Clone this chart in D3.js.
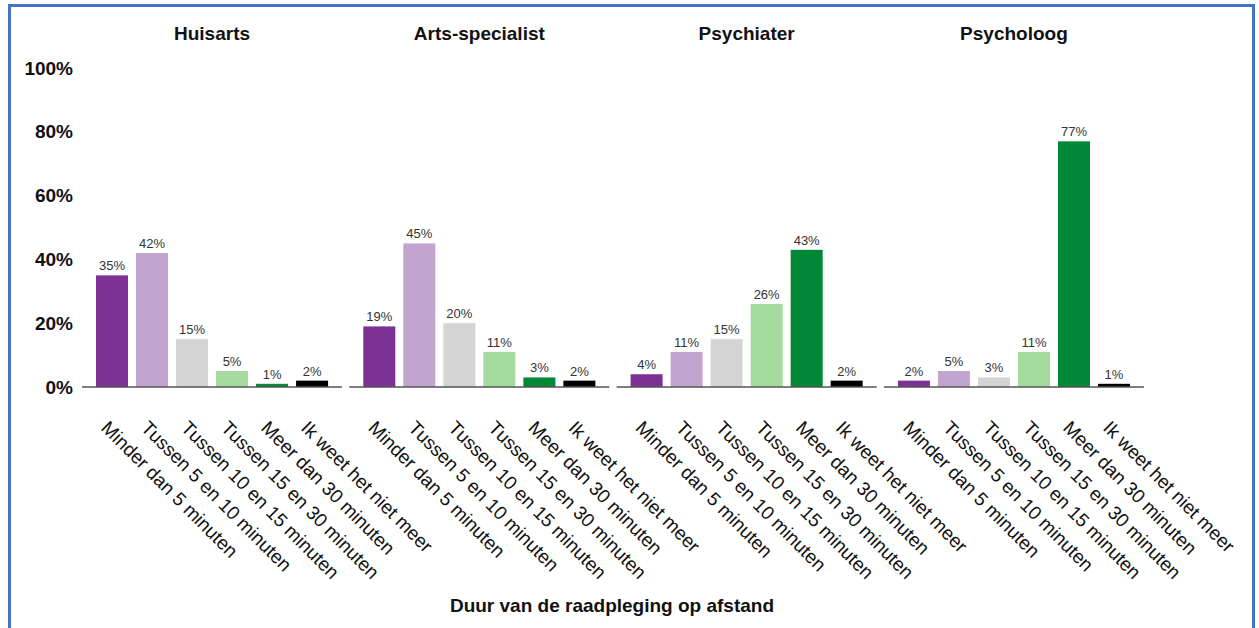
<!DOCTYPE html>
<html>
<head>
<meta charset="utf-8">
<script src="https://cdn.jsdelivr.net/npm/d3@7"></script>
<style>
  body { margin: 0; background: #fff; }
  svg text { font-family: 'Liberation Sans', Arial, sans-serif; }
</style>
</head>
<body>
<div id="chart"></div>
<script>
let panels = ['Huisarts', 'Arts-specialist', 'Psychiater', 'Psycholoog']

let categories = [
  'Minder dan 5 minuten',
  'Tussen 5 en 10 minuten',
  'Tussen 10 en 15 minuten',
  'Tussen 15 en 30 minuten',
  'Meer dan 30 minuten',
  'Ik weet het niet meer'
]

let huisarts = [35, 42, 15, 5, 1, 2]
let artsSpecialist = [19, 45, 20, 11, 3, 2]
let psychiater = [4, 11, 15, 26, 43, 2]
let psycholoog = [2, 5, 3, 11, 77, 1]

let yTicks = [0, 20, 40, 60, 80, 100]

let colors = ['#7b3294', '#c2a5cf', '#d4d4d4', '#a6dba0', '#008837', '#000000']

let seriesByPanel = [huisarts, artsSpecialist, psychiater, psycholoog]

let width = 1259
let height = 628

let svg = d3
  .select('#chart')
  .append('svg')
  .attr('width', width)
  .attr('height', height)

// blue frame, cut off at the bottom like the screenshot
svg
  .append('path')
  .attr('d', 'M9.5,' + height + ' V5.5 H1253.5 V' + height)
  .attr('fill', 'none')
  .attr('stroke', '#4472c4')
  .attr('stroke-width', 3)

let panelScale = d3
  .scaleBand()
  .domain(panels)
  .range([82, 1144])
  .paddingInner(0.027)

let xPositionScale = d3
  .scaleBand()
  .domain(categories)
  .range([0, panelScale.bandwidth()])
  .paddingInner(0.2)
  .paddingOuter(0.35)

let yPositionScale = d3.scaleLinear().domain([0, 100]).range([387, 68])

let colorScale = d3.scaleOrdinal().domain(categories).range(colors)

// y labels (no axis line)
let yAxis = d3
  .axisLeft(yPositionScale)
  .tickValues(yTicks)
  .tickFormat(d => d + '%')
  .tickSize(0)
  .tickPadding(0)
svg
  .append('g')
  .attr('class', 'axis y-axis')
  .attr('transform', 'translate(73,0)')
  .call(yAxis)
  .call(g => g.select('.domain').remove())
  .selectAll('text')
  .attr('font-size', 19)
  .attr('font-weight', 'bold')
  .attr('fill', '#111')
  .attr('font-family', "'Liberation Sans', Arial, sans-serif")

panels.forEach((name, i) => {
  let values = seriesByPanel[i]
  let datapoints = categories.map((c, j) => ({ cat: c, value: values[j] }))

  let g = svg
    .append('g')
    .attr('transform', 'translate(' + panelScale(name) + ',0)')

  g.append('text')
    .attr('x', panelScale.bandwidth() / 2)
    .attr('y', 40)
    .attr('text-anchor', 'middle')
    .attr('font-size', 19)
    .attr('font-weight', 'bold')
    .attr('fill', '#111')
    .text(name)

  g.selectAll('.bar')
    .data(datapoints)
    .enter()
    .append('rect')
    .attr('class', 'bar')
    .attr('x', d => xPositionScale(d.cat))
    .attr('y', d => yPositionScale(d.value))
    .attr('width', xPositionScale.bandwidth())
    .attr('height', d => yPositionScale(0) - yPositionScale(d.value))
    .attr('fill', d => colorScale(d.cat))

  g.selectAll('.value-text')
    .data(datapoints)
    .enter()
    .append('text')
    .attr('class', 'value-text')
    .attr('x', d => xPositionScale(d.cat) + xPositionScale.bandwidth() / 2)
    .attr('y', d => yPositionScale(d.value) - 5)
    .attr('text-anchor', 'middle')
    .attr('font-size', 13)
    .attr('fill', '#333')
    .text(d => d.value + '%')

  g.append('line')
    .attr('x1', 0)
    .attr('x2', panelScale.bandwidth())
    .attr('y1', yPositionScale(0))
    .attr('y2', yPositionScale(0))
    .attr('stroke', '#555')
    .attr('stroke-width', 1.5)

  g.selectAll('.cat-text')
    .data(categories)
    .enter()
    .append('text')
    .attr('class', 'cat-text')
    .attr('transform', d => {
      let x = xPositionScale(d) + xPositionScale.bandwidth() / 2 - 12
      return 'translate(' + x + ',429) rotate(45)'
    })
    .attr('font-size', 19)
    .attr('fill', '#111')
    .text(d => d)
})

svg
  .append('text')
  .attr('x', 612)
  .attr('y', 612)
  .attr('text-anchor', 'middle')
  .attr('font-size', 19)
  .attr('font-weight', 'bold')
  .attr('fill', '#111')
  .text('Duur van de raadpleging op afstand')
</script>
</body>
</html>
